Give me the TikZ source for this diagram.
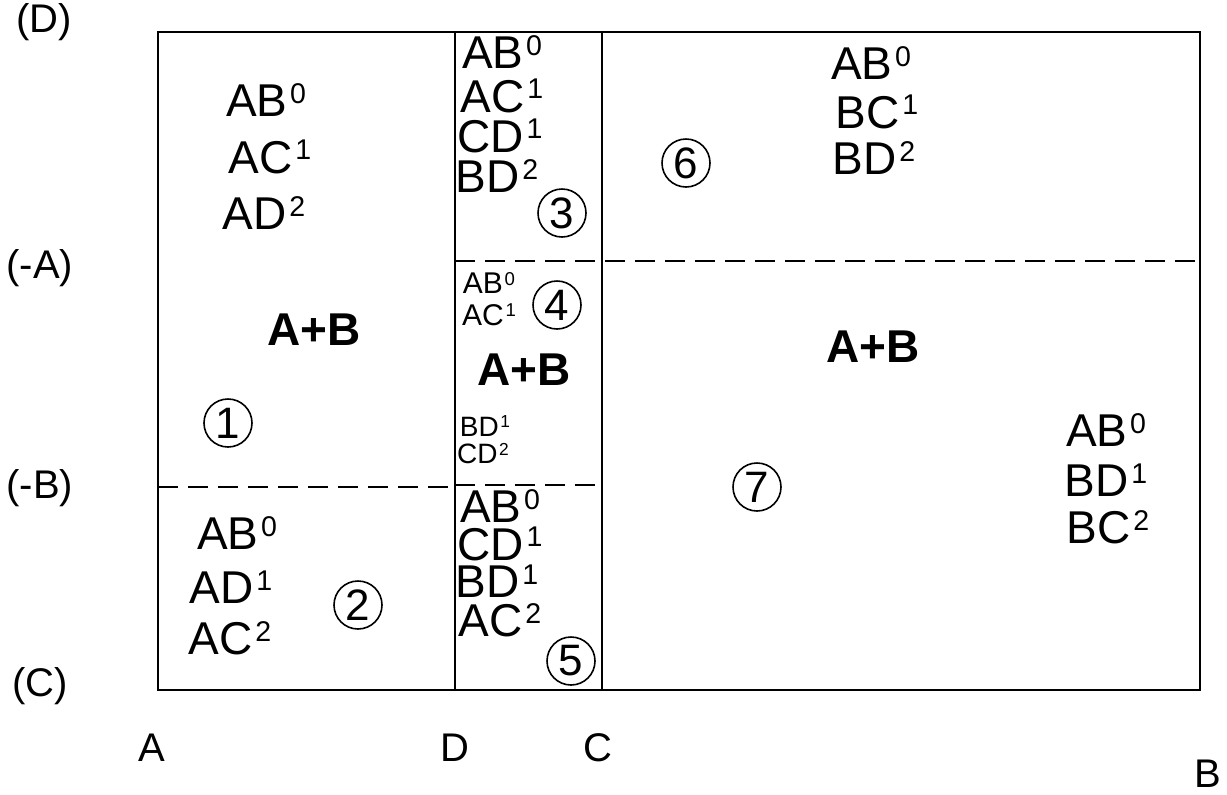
\documentclass[tikz,border=0pt]{standalone}
\usepackage{fontspec}
\usepackage{tikz}
\setmainfont{Liberation Sans}
\usetikzlibrary{positioning}
\newcommand{\lvl}[1]{\kern0.06em\raisebox{0.29em}{\scalebox{0.62}{#1}}}

\begin{document}
\begin{tikzpicture}[
  x=0.5pt, y=-0.5pt,
  frame/.style={line width=1.3pt},
  split/.style={line width=1.1pt, dash pattern=on 10pt off 5pt},
  term/.style={inner sep=0pt, font=\fontsize{23}{23}\selectfont},
  smallterm/.style={inner sep=0pt, font=\fontsize{15}{15}\selectfont},
  tinyterm/.style={inner sep=0pt, font=\fontsize{14}{14}\selectfont},
  sum/.style={inner sep=0pt, font=\fontsize{23}{23}\selectfont\bfseries},
  region/.style={circle, draw, line width=0.8pt, minimum size=24pt, inner sep=0pt,
                 font=\fontsize{22}{22}\selectfont},
  axis/.style={inner sep=0pt, font=\fontsize{20}{20}\selectfont}
]
\useasboundingbox (0,0) rectangle (1227,794);
\coordinate (nw) at (158,32);
\coordinate (se) at (1200,690);
\draw[frame] (nw) rectangle (se);
\draw[frame] (455,32) -- (455,690);
\draw[frame] (602,32) -- (602,690);
\draw[split] (158,487) -- (455,487);
\draw[split] (455,485) -- (602,485);
\draw[split] (455,261) -- (1200,261);

\node[axis] (yD) at (44,22) {(D)};
\node[axis] (yA) at (40,268) {(-A)};
\node[axis] (yB) at (40,488) {(-B)};
\node[axis] (yC) at (40,686) {(C)};
\node[axis] (xA) at (152,748) {A};
\node[axis] (xD) at (455,748) {D};
\node[axis] (xC) at (598,748) {C};
\node[axis] (xB) at (1208,774) {B};

\node[term] (r1a) at (266,100) {AB\lvl{0}};
\node[term] (r1b) at (270,157) {AC\lvl{1}};
\node[term] (r1c) at (264,213) {AD\lvl{2}};
\node[sum] (r1sum) at (314,330) {A+B};
\node[region] (r1) at (228,423) {1};

\node[term] (r2a) at (237,533) {AB\lvl{0}};
\node[term] (r2b) at (231,587) {AD\lvl{1}};
\node[term] (r2c) at (230,638) {AC\lvl{2}};
\node[region] (r2) at (358,605) {2};

\node[term] (r3a) at (502,52) {AB\lvl{0}};
\node[term] (r3b) at (502,96) {AC\lvl{1}};
\node[term] (r3c) at (500,136) {CD\lvl{1}};
\node[term] (r3d) at (497,176) {BD\lvl{2}};
\node[region] (r3) at (562,213) {3};

\node[smallterm] (r4a) at (489,283) {AB\lvl{0}};
\node[smallterm] (r4b) at (489,315) {AC\lvl{1}};
\node[region] (r4) at (557,305) {4};
\node[sum] (r4sum) at (524,370) {A+B};
\node[tinyterm] (r4c) at (485,426) {BD\lvl{1}};
\node[tinyterm] (r4d) at (483,454) {CD\lvl{2}};

\node[term] (r5a) at (500,506) {AB\lvl{0}};
\node[term] (r5b) at (500,544) {CD\lvl{1}};
\node[term] (r5c) at (497,581) {BD\lvl{1}};
\node[term] (r5d) at (500,620) {AC\lvl{2}};
\node[region] (r5) at (571,661) {5};

\node[term] (r6a) at (871,63) {AB\lvl{0}};
\node[term] (r6b) at (877,112) {BC\lvl{1}};
\node[term] (r6c) at (874,158) {BD\lvl{2}};
\node[region] (r6) at (686,163) {6};

\node[sum] (r7sum) at (873,347) {A+B};
\node[term] (r7a) at (1106,430) {AB\lvl{0}};
\node[term] (r7b) at (1106,480) {BD\lvl{1}};
\node[term] (r7c) at (1108,527) {BC\lvl{2}};
\node[region] (r7) at (757,487) {7};
\end{tikzpicture}
\end{document}
